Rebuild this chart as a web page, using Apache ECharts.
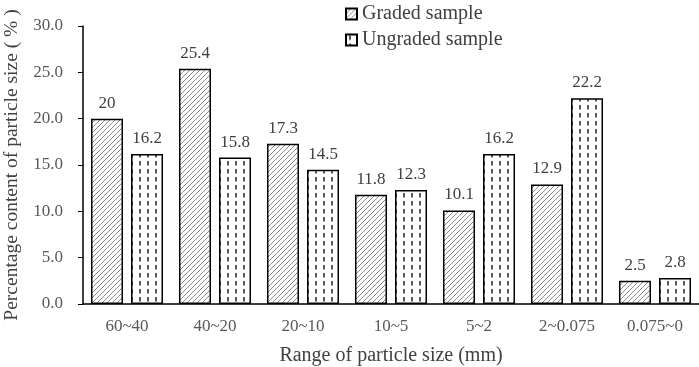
<!DOCTYPE html>
<html>
<head>
<meta charset="utf-8">
<script src="https://cdn.jsdelivr.net/npm/echarts@6/dist/echarts.min.js"></script>
<style>
  html, body { margin: 0; padding: 0; background: #fff; }
  #chart { width: 699px; height: 367px; }
</style>
</head>
<body>
<div id="chart"></div>
<script>
var categories = ['60~40', '40~20', '20~10', '10~5', '5~2', '2~0.075', '0.075~0'];
var graded = [20, 25.4, 17.3, 11.8, 10.1, 12.9, 2.5];
var ungraded = [16.2, 15.8, 14.5, 12.3, 16.2, 22.2, 2.8];

function hatchPattern() {
    var c = document.createElement('canvas');
    c.width = 5; c.height = 5;
    var ctx = c.getContext('2d');
    ctx.fillStyle = '#fff';
    ctx.fillRect(0, 0, 5, 5);
    ctx.strokeStyle = '#808080';
    ctx.lineWidth = 0.9;
    ctx.beginPath();
    ctx.moveTo(-1, 6); ctx.lineTo(6, -1);
    ctx.moveTo(-1, 1); ctx.lineTo(1, -1);
    ctx.moveTo(4, 6); ctx.lineTo(6, 4);
    ctx.stroke();
    return c;
}

function dashPattern() {
    var c = document.createElement('canvas');
    c.width = 8; c.height = 8;
    var ctx = c.getContext('2d');
    ctx.fillStyle = '#fff';
    ctx.fillRect(0, 0, 8, 8);
    ctx.strokeStyle = '#111';
    ctx.lineWidth = 1.4;
    ctx.beginPath();
    ctx.moveTo(4, 1); ctx.lineTo(4, 5.5);
    ctx.stroke();
    return c;
}

var font = 'Liberation Serif';
var chart = echarts.init(document.getElementById('chart'));
chart.setOption({
    animation: false,
    textStyle: { fontFamily: font },
    grid: { left: 83, right: 0, top: 26, bottom: 63, outerBoundsMode: 'none' },
    legend: {
        orient: 'vertical',
        left: 340,
        top: -1,
        itemWidth: 11,
        itemHeight: 11,
        itemGap: 6,
        icon: 'rect',
        textStyle: { fontFamily: font, fontSize: 20, color: '#404040' },
        data: ['Graded sample', 'Ungraded sample']
    },
    xAxis: {
        type: 'category',
        data: categories,
        name: 'Range of particle size (mm)',
        nameLocation: 'middle',
        nameGap: 42,
        nameTextStyle: { fontFamily: font, fontSize: 20, color: '#404040' },
        axisLine: { lineStyle: { color: '#000', width: 1.5 } },
        axisTick: { show: false },
        axisLabel: { fontFamily: font, fontSize: 17, color: '#595959', margin: 14 }
    },
    yAxis: {
        type: 'value',
        min: 0,
        max: 30,
        interval: 5,
        name: 'Percentage content of particle size ( % )',
        nameLocation: 'middle',
        nameGap: 58,
        nameTextStyle: { fontFamily: font, fontSize: 19.5, color: '#404040' },
        splitLine: { show: false },
        axisLine: { show: true, lineStyle: { color: '#000', width: 1.5 } },
        axisTick: { show: true, length: 5, lineStyle: { color: '#000' } },
        axisLabel: {
            fontFamily: font, fontSize: 17, color: '#595959', margin: 20,
            formatter: function (v) { return v.toFixed(1); }
        }
    },
    series: [
        {
            name: 'Graded sample',
            type: 'bar',
            data: graded,
            barWidth: 32,
            barGap: '25%',
            itemStyle: {
                color: { image: hatchPattern(), repeat: 'repeat' },
                borderColor: '#000',
                borderWidth: 1.5
            },
            label: { show: true, position: 'top', distance: 7, fontFamily: font, fontSize: 17, color: '#404040' }
        },
        {
            name: 'Ungraded sample',
            type: 'bar',
            data: ungraded,
            barWidth: 32,
            itemStyle: {
                color: { image: dashPattern(), repeat: 'repeat' },
                borderColor: '#000',
                borderWidth: 1.5
            },
            label: { show: true, position: 'top', distance: 7, fontFamily: font, fontSize: 17, color: '#404040' }
        }
    ]
});
</script>
</body>
</html>
